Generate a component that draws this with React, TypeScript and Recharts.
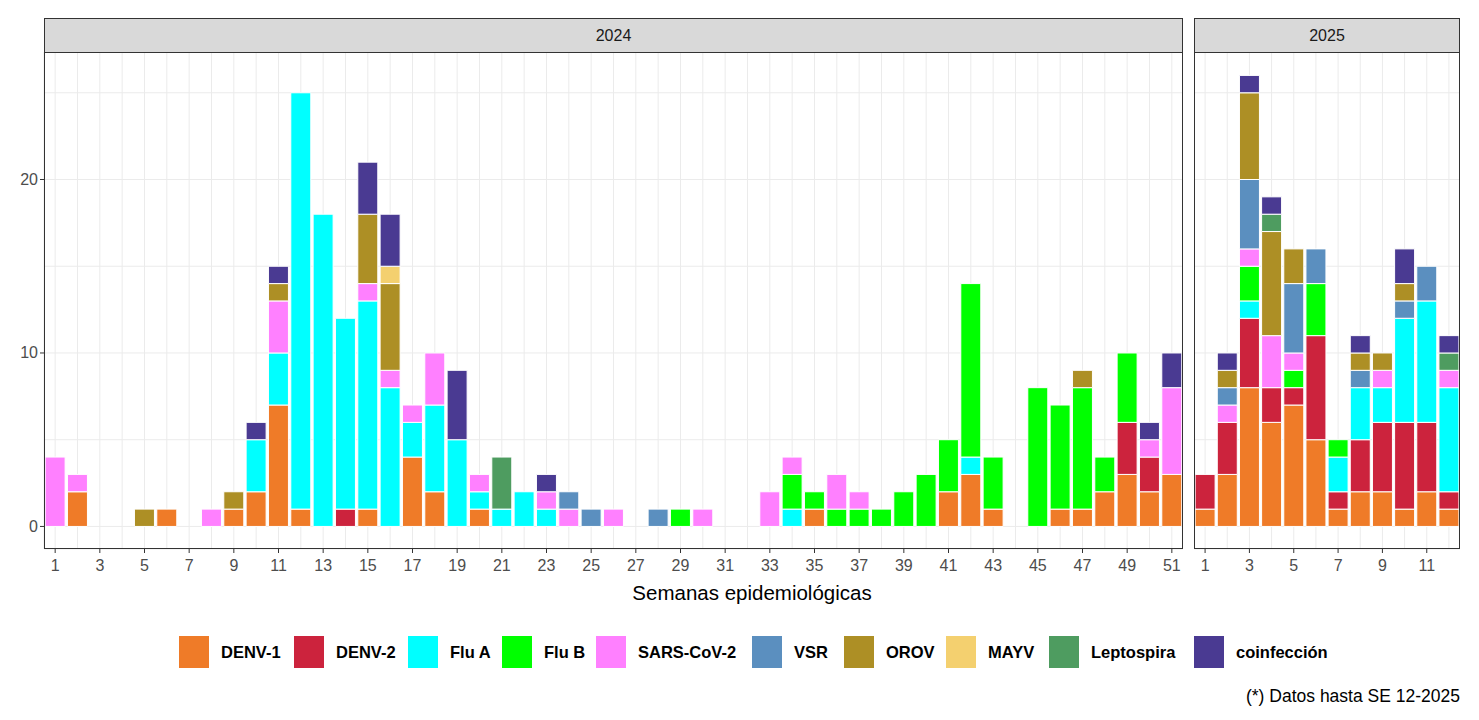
import React from 'react';
import { BarChart, Bar, XAxis, YAxis, CartesianGrid } from 'recharts';

// semanas epidemiológicas por año
const weeks2024 = Array.from({ length: 51 }, (_, i) => i + 1);
const weeks2025 = Array.from({ length: 12 }, (_, i) => i + 1);

// 2024, semanas 1..51 (filas de 10)
const denv1_2024 = [
  0, 2, 0, 0, 0, 1, 0, 0, 1, 2,
  7, 1, 0, 0, 1, 0, 4, 2, 0, 1,
  0, 0, 0, 0, 0, 0, 0, 0, 0, 0,
  0, 0, 0, 0, 1, 0, 0, 0, 0, 0,
  2, 3, 1, 0, 0, 1, 1, 2, 3, 2,
  3,
];
const denv2_2024 = [
  0, 0, 0, 0, 0, 0, 0, 0, 0, 0,
  0, 0, 0, 1, 0, 0, 0, 0, 0, 0,
  0, 0, 0, 0, 0, 0, 0, 0, 0, 0,
  0, 0, 0, 0, 0, 0, 0, 0, 0, 0,
  0, 0, 0, 0, 0, 0, 0, 0, 3, 2,
  0,
];
const fluA_2024 = [
  0, 0, 0, 0, 0, 0, 0, 0, 0, 3,
  3, 24, 18, 11, 12, 8, 2, 5, 5, 1,
  1, 2, 1, 0, 0, 0, 0, 0, 0, 0,
  0, 0, 0, 1, 0, 0, 0, 0, 0, 0,
  0, 1, 0, 0, 0, 0, 0, 0, 0, 0,
  0,
];
const fluB_2024 = [
  0, 0, 0, 0, 0, 0, 0, 0, 0, 0,
  0, 0, 0, 0, 0, 0, 0, 0, 0, 0,
  0, 0, 0, 0, 0, 0, 0, 0, 1, 0,
  0, 0, 0, 2, 1, 1, 1, 1, 2, 3,
  3, 10, 3, 0, 8, 6, 7, 2, 4, 0,
  0,
];
const sars_2024 = [
  4, 1, 0, 0, 0, 0, 0, 1, 0, 0,
  3, 0, 0, 0, 1, 1, 1, 3, 0, 1,
  0, 0, 1, 1, 0, 1, 0, 0, 0, 1,
  0, 0, 2, 1, 0, 2, 1, 0, 0, 0,
  0, 0, 0, 0, 0, 0, 0, 0, 0, 1,
  5,
];
const vsr_2024 = [
  0, 0, 0, 0, 0, 0, 0, 0, 0, 0,
  0, 0, 0, 0, 0, 0, 0, 0, 0, 0,
  0, 0, 0, 1, 1, 0, 0, 1, 0, 0,
  0, 0, 0, 0, 0, 0, 0, 0, 0, 0,
  0, 0, 0, 0, 0, 0, 0, 0, 0, 0,
  0,
];
const orov_2024 = [
  0, 0, 0, 0, 1, 0, 0, 0, 1, 0,
  1, 0, 0, 0, 4, 5, 0, 0, 0, 0,
  0, 0, 0, 0, 0, 0, 0, 0, 0, 0,
  0, 0, 0, 0, 0, 0, 0, 0, 0, 0,
  0, 0, 0, 0, 0, 0, 1, 0, 0, 0,
  0,
];
const mayv_2024 = [
  0, 0, 0, 0, 0, 0, 0, 0, 0, 0,
  0, 0, 0, 0, 0, 1, 0, 0, 0, 0,
  0, 0, 0, 0, 0, 0, 0, 0, 0, 0,
  0, 0, 0, 0, 0, 0, 0, 0, 0, 0,
  0, 0, 0, 0, 0, 0, 0, 0, 0, 0,
  0,
];
const lepto_2024 = [
  0, 0, 0, 0, 0, 0, 0, 0, 0, 0,
  0, 0, 0, 0, 0, 0, 0, 0, 0, 0,
  3, 0, 0, 0, 0, 0, 0, 0, 0, 0,
  0, 0, 0, 0, 0, 0, 0, 0, 0, 0,
  0, 0, 0, 0, 0, 0, 0, 0, 0, 0,
  0,
];
const coinf_2024 = [
  0, 0, 0, 0, 0, 0, 0, 0, 0, 1,
  1, 0, 0, 0, 3, 3, 0, 0, 4, 0,
  0, 0, 1, 0, 0, 0, 0, 0, 0, 0,
  0, 0, 0, 0, 0, 0, 0, 0, 0, 0,
  0, 0, 0, 0, 0, 0, 0, 0, 0, 1,
  2,
];

// 2025, semanas 1..12
const denv1_2025 = [1, 3, 8, 6, 7, 5, 1, 2, 2, 1, 2, 1];
const denv2_2025 = [2, 3, 4, 2, 1, 6, 1, 3, 4, 5, 4, 1];
const fluA_2025 = [0, 0, 1, 0, 0, 0, 2, 3, 2, 6, 7, 6];
const fluB_2025 = [0, 0, 2, 0, 1, 3, 1, 0, 0, 0, 0, 0];
const sars_2025 = [0, 1, 1, 3, 1, 0, 0, 0, 1, 0, 0, 1];
const vsr_2025 = [0, 1, 4, 0, 4, 2, 0, 1, 0, 1, 2, 0];
const orov_2025 = [0, 1, 5, 6, 2, 0, 0, 1, 1, 1, 0, 0];
const mayv_2025 = [0, 0, 0, 0, 0, 0, 0, 0, 0, 0, 0, 0];
const lepto_2025 = [0, 0, 0, 1, 0, 0, 0, 0, 0, 0, 0, 1];
const coinf_2025 = [0, 1, 1, 1, 0, 0, 0, 1, 0, 2, 0, 1];

const seriesNames = ['DENV-1', 'DENV-2', 'Flu A', 'Flu B', 'SARS-CoV-2', 'VSR', 'OROV', 'MAYV', 'Leptospira', 'coinfección'];
const seriesColors = ['#EF7B28', '#CC233D', '#00FFFF', '#00FF00', '#FF80FF', '#5B8FBF', '#AD8F25', '#F4D06F', '#4E9C60', '#4A3A92'];

const values2024 = [denv1_2024, denv2_2024, fluA_2024, fluB_2024, sars_2024, vsr_2024, orov_2024, mayv_2024, lepto_2024, coinf_2024];
const values2025 = [denv1_2025, denv2_2025, fluA_2025, fluB_2025, sars_2025, vsr_2025, orov_2025, mayv_2025, lepto_2025, coinf_2025];

const yTicks = [0, 5, 10, 15, 20, 25];
const yLabels = [0, 10, 20];

// left edge of each legend key (layout only)
const legendKeyLeft = [179, 294, 408, 502, 596, 752, 844, 946, 1049, 1194];

function buildRows(weeks: number[], values: number[][]) {
  return weeks.map((w, i) => {
    const row: Record<string, number> = { week: w };
    seriesNames.forEach((name, s) => {
      row[name] = values[s][i];
    });
    return row;
  });
}

const rows2024 = buildRows(weeks2024, values2024);
const rows2025 = buildRows(weeks2025, values2025);

const FONT = '"Liberation Sans", Arial, Helvetica, sans-serif';
const PANEL_TOP = 52;
const PANEL_H = 497;
const AXIS_H = 40;
const BORDER = '#333333';

const XTick = (props: any) => {
  const { x, y, payload } = props;
  const w = payload.value;
  if (w % 2 === 0) return <g />;
  return (
    <g>
      <line x1={x} x2={x} y1={y} y2={y + 4} stroke={BORDER} strokeWidth={1} />
      <text x={x} y={y + 22} textAnchor="middle" fontSize={16} fill="#4D4D4D" fontFamily={FONT}>
        {w}
      </text>
    </g>
  );
};

const YTick = (props: any) => {
  const { x, y, payload } = props;
  if (!yLabels.includes(payload.value)) return <g />;
  return (
    <g>
      <line x1={x - 4} x2={x} y1={y} y2={y} stroke={BORDER} strokeWidth={1} />
      <text x={x - 6} y={y + 5.5} textAnchor="end" fontSize={16} fill="#4D4D4D" fontFamily={FONT}>
        {payload.value}
      </text>
    </g>
  );
};

const NoTick = () => <g />;

function Panel({ rows, left, width, yAxisWidth, label }: { rows: any[]; left: number; width: number; yAxisWidth: number; label: string }) {
  const plotLeft = left + yAxisWidth;
  const plotW = width - yAxisWidth;
  return (
    <>
      {/* strip */}
      <div
        style={{
          position: 'absolute',
          left: plotLeft,
          top: 18,
          width: plotW,
          height: PANEL_TOP - 18 + 1,
          boxSizing: 'border-box',
          background: '#D9D9D9',
          border: `1px solid ${BORDER}`,
          display: 'flex',
          alignItems: 'center',
          justifyContent: 'center',
          fontSize: 16,
          color: '#1A1A1A',
        }}
      >
        {label}
      </div>
      <div style={{ position: 'absolute', left, top: PANEL_TOP }}>
        <BarChart
          width={width}
          height={PANEL_H + AXIS_H}
          data={rows}
          margin={{ top: 0, right: 0, bottom: 0, left: 0 }}
          barCategoryGap="5%"
        >
          <CartesianGrid stroke="#EBEBEB" strokeWidth={1} />
          <XAxis
            dataKey="week"
            type="category"
            interval={0}
            height={AXIS_H}
            tick={XTick}
            tickLine={false}
            axisLine={false}
            tickSize={0}
            tickMargin={0}
          />
          <YAxis
            type="number"
            domain={[-1.3, 27.35]}
            ticks={yTicks}
            allowDataOverflow
            width={yAxisWidth}
            hide={yAxisWidth === 0}
            tick={yAxisWidth === 0 ? NoTick : YTick}
            tickLine={false}
            axisLine={false}
            tickSize={0}
            tickMargin={0}
          />
          {seriesNames.map((name, s) => (
            <Bar
              key={name}
              dataKey={name}
              stackId="a"
              fill={seriesColors[s]}
              stroke="#FFFFFF"
              strokeWidth={1}
              isAnimationActive={false}
            />
          ))}
        </BarChart>
      </div>
      {/* panel border */}
      <div
        style={{
          position: 'absolute',
          left: plotLeft,
          top: PANEL_TOP,
          width: plotW,
          height: PANEL_H,
          boxSizing: 'border-box',
          border: `1px solid ${BORDER}`,
          pointerEvents: 'none',
        }}
      />
    </>
  );
}

export default function App() {
  return (
    <div
      style={{
        position: 'absolute',
        left: 0,
        top: 0,
        width: 1479,
        height: 720,
        background: '#FFFFFF',
        fontFamily: FONT,
        overflow: 'hidden',
      }}
    >
      <Panel rows={rows2024} left={0} width={1183} yAxisWidth={44} label="2024" />
      <Panel rows={rows2025} left={1194} width={266} yAxisWidth={0} label="2025" />

      <div
        style={{
          position: 'absolute',
          left: 452,
          top: 581,
          width: 600,
          textAlign: 'center',
          fontSize: 20.5,
          color: '#000',
        }}
      >
        Semanas epidemiológicas
      </div>

      {seriesNames.map((name, s) => (
        <div
          key={name}
          style={{
            position: 'absolute',
            left: legendKeyLeft[s],
            top: 636,
            display: 'flex',
            alignItems: 'center',
            whiteSpace: 'nowrap',
          }}
        >
          <div style={{ width: 30, height: 32, background: seriesColors[s], marginRight: 12 }} />
          <span style={{ fontSize: 16.5, fontWeight: 'bold', color: '#000' }}>{name}</span>
        </div>
      ))}

      <div
        style={{
          position: 'absolute',
          right: 19,
          top: 686,
          fontSize: 17.5,
          color: '#000',
        }}
      >
        (*) Datos hasta SE 12-2025
      </div>
    </div>
  );
}
